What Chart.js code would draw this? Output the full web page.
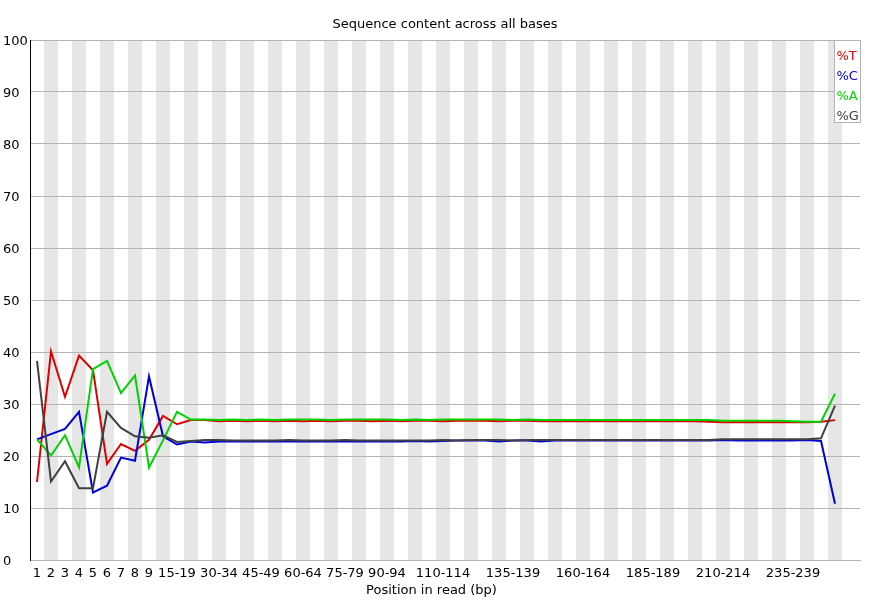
<!DOCTYPE html>
<html>
<head>
<meta charset="utf-8">
<script src="https://cdn.jsdelivr.net/npm/chart.js@4/dist/chart.umd.min.js"></script>
<style>
  html, body { margin: 0; padding: 0; background: #fff; }
  canvas { display: block; }
</style>
</head>
<body>
<canvas id="myChart" width="870" height="600"></canvas>
<script>
// position bins: 1..9 single bases, then 5bp groups, last bin 250
const categories = [];
for (let i = 1; i <= 9; i++) categories.push(String(i));
for (let s = 10; s < 250; s += 5) categories.push(s + "-" + (s + 4));
categories.push("250");

// labels the original plot actually prints on the x axis
const shownTicks = ["1", "2", "3", "4", "5", "6", "7", "8", "9", "15-19", "30-34", "45-49",
  "60-64", "75-79", "90-94", "110-114", "135-139", "160-164", "185-189", "210-214", "235-239"];

const yTicks = [0, 10, 20, 30, 40, 50, 60, 70, 80, 90, 100];

const pctT = [
  15.0, 40.1, 31.4, 39.3, 36.5, 18.5, 22.3, 21.0, 23.1, 27.7,
  26.1, 26.9, 26.9, 26.7, 26.8, 26.7, 26.8, 26.7, 26.8, 26.7,
  26.8, 26.7, 26.8, 26.8, 26.7, 26.8, 26.7, 26.8, 26.8, 26.7,
  26.8, 26.8, 26.8, 26.7, 26.8, 26.8, 26.7, 26.7, 26.7, 26.7,
  26.7, 26.7, 26.7, 26.7, 26.7, 26.7, 26.7, 26.7, 26.6, 26.5,
  26.5, 26.5, 26.5, 26.5, 26.5, 26.5, 26.6, 26.9
];
const pctC = [
  23.2, 24.2, 25.2, 28.5, 13.0, 14.3, 19.7, 19.1, 35.3, 23.8,
  22.2, 22.8, 22.6, 22.8, 22.8, 22.8, 22.8, 22.8, 22.8, 22.8,
  22.8, 22.8, 22.8, 22.8, 22.8, 22.8, 22.8, 22.9, 22.8, 22.9,
  23.0, 23.0, 23.0, 22.8, 23.0, 23.0, 22.8, 23.0, 23.0, 23.0,
  23.0, 23.0, 23.0, 23.0, 23.0, 23.0, 23.0, 23.0, 23.0, 23.1,
  23.0, 23.0, 23.0, 23.0, 23.0, 23.1, 22.9, 10.8
];
const pctA = [
  23.2, 20.1, 24.0, 17.8, 36.7, 38.3, 32.1, 35.5, 17.8, 23.0,
  28.5, 27.0, 27.0, 26.9, 27.0, 26.9, 27.0, 26.9, 27.0, 27.0,
  27.0, 26.9, 27.0, 27.0, 27.0, 27.0, 26.9, 27.0, 26.9, 27.0,
  27.0, 27.0, 27.0, 27.0, 26.9, 27.0, 26.9, 26.9, 26.9, 26.9,
  26.9, 26.9, 26.9, 26.9, 26.9, 26.9, 26.9, 26.9, 26.9, 26.8,
  26.8, 26.8, 26.8, 26.8, 26.7, 26.6, 26.6, 32.0
];
const pctG = [
  38.3, 15.1, 19.0, 13.8, 13.8, 28.5, 25.4, 23.8, 23.5, 24.0,
  22.7, 22.9, 23.1, 23.1, 23.0, 23.0, 23.0, 23.0, 23.1, 23.0,
  23.0, 23.0, 23.1, 23.0, 23.0, 23.0, 23.0, 23.0, 23.0, 23.1,
  23.0, 23.1, 23.1, 23.1, 23.0, 23.1, 23.1, 23.1, 23.1, 23.1,
  23.1, 23.1, 23.1, 23.1, 23.1, 23.1, 23.1, 23.1, 23.1, 23.2,
  23.2, 23.2, 23.2, 23.2, 23.2, 23.2, 23.4, 29.7
];

const FONT = "'DejaVu Sans', sans-serif";
const toPoints = arr => arr.map((v, i) => ({ x: i, y: v }));

// alternating grey columns behind the plot
const stripes = {
  id: "stripes",
  beforeDraw(chart) {
    const { ctx, chartArea } = chart;
    const x = chart.scales.x;
    ctx.save();
    ctx.fillStyle = "rgb(230,230,230)";
    for (let i = 1; i < categories.length; i += 2) {
      const x0 = Math.round(x.getPixelForValue(i - 0.5));
      const x1 = Math.round(x.getPixelForValue(i + 0.5));
      ctx.fillRect(x0, chartArea.top, x1 - x0, chartArea.bottom - chartArea.top);
    }
    ctx.restore();
  }
};

// small boxed legend in the top right corner
const boxLegend = {
  id: "boxLegend",
  afterDraw(chart) {
    const { ctx, chartArea } = chart;
    const sets = chart.data.datasets;
    const w = 26, h = 82;
    const left = chartArea.right - w + 0.5, top = chartArea.top + 0.5;
    ctx.save();
    ctx.fillStyle = "#fff";
    ctx.fillRect(left, top, w, h);
    ctx.strokeStyle = "rgb(180,180,180)";
    ctx.lineWidth = 1;
    ctx.strokeRect(left, top, w, h);
    ctx.font = "13px " + FONT;
    ctx.textBaseline = "middle";
    ctx.textAlign = "left";
    sets.forEach((ds, i) => {
      ctx.fillStyle = ds.borderColor;
      ctx.fillText(ds.label, left + 2, top + 16 + i * 20);
    });
    ctx.restore();
  }
};

const nCols = (860 - 30) / 14;

new Chart(document.getElementById("myChart"), {
  type: "line",
  data: {
    datasets: [
      { label: "%T", data: toPoints(pctT), borderColor: "rgb(220,0,0)", order: 3 },
      { label: "%C", data: toPoints(pctC), borderColor: "rgb(0,0,220)", order: 2 },
      { label: "%A", data: toPoints(pctA), borderColor: "rgb(0,210,0)", order: 1 },
      { label: "%G", data: toPoints(pctG), borderColor: "rgb(64,64,64)", order: 0 }
    ]
  },
  options: {
    responsive: false,
    animation: false,
    devicePixelRatio: 1,
    layout: { padding: { left: 3, right: 10, top: 0, bottom: 0 } },
    elements: {
      line: { borderWidth: 2, tension: 0, fill: false },
      point: { radius: 0, hoverRadius: 0 }
    },
    plugins: {
      legend: { display: false },
      tooltip: { enabled: false },
      title: {
        display: true,
        fullSize: false,
        text: "Sequence content across all bases",
        color: "#000",
        font: { family: FONT, size: 13, weight: "normal" },
        padding: { top: 17.2, bottom: 7.2 }
      },
      // x axis caption, centred on the whole image like the original
      subtitle: {
        display: true,
        position: "bottom",
        text: "Position in read (bp)",
        color: "#000",
        font: { family: FONT, size: 13, weight: "normal" },
        padding: { top: 0, bottom: 2 }
      }
    },
    scales: {
      x: {
        type: "linear",
        min: -0.5,
        max: nCols - 0.5,
        afterFit(scale) { scale.height = 22.4; },
        afterBuildTicks(scale) {
          scale.ticks = shownTicks.map(l => ({ value: categories.indexOf(l) }));
        },
        grid: { display: false, drawTicks: false },
        border: { color: "rgb(180,180,180)", width: 1 },
        ticks: {
          autoSkip: false,
          maxRotation: 0,
          padding: 5.5,
          color: "#000",
          font: { family: FONT, size: 13 },
          callback: v => categories[v]
        }
      },
      y: {
        min: 0,
        max: 100,
        afterFit(scale) { scale.width = 27; },
        afterBuildTicks(scale) {
          scale.ticks = yTicks.map(v => ({ value: v }));
        },
        grid: { color: "rgb(180,180,180)", drawTicks: false, lineWidth: 1 },
        border: { color: "#000", width: 1 },
        ticks: {
          crossAlign: "far",
          padding: 0,
          labelOffset: 2,
          color: "#000",
          font: { family: FONT, size: 13 }
        }
      }
    }
  },
  plugins: [stripes, boxLegend]
});
</script>
</body>
</html>
